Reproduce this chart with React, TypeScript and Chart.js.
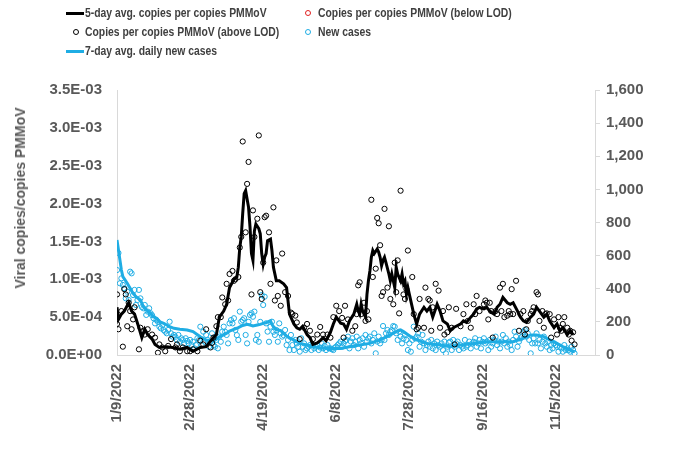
import React, { useEffect, useRef } from "react";
import { Chart, registerables } from "chart.js";

Chart.register(...registerables);

// Axis tick labels
const xTickLabels = ["1/9/2022", "2/28/2022", "4/19/2022", "6/8/2022", "7/28/2022", "9/16/2022", "11/5/2022"];
const leftTickLabels = ["0.0E+00", "5.0E-04", "1.0E-03", "1.5E-03", "2.0E-03", "2.5E-03", "3.0E-03", "3.5E-03"];
const rightTickLabels = ["0", "200", "400", "600", "800", "1,000", "1,200", "1,400", "1,600"];

// Days counted from 1/9/2022
// 5-day avg. copies per copies PMMoV
const avgDays = [0,1,3,5,8,10,12,15,17,19,21,24,26,29,34,38,43,48,52,57,61,66,68,70,73,75,77,80,82,83,84,85,86,87,88,90,91,92,93,94,95,97,98,99,100,101,102,103,105,106,107,109,111,114,116,118,121,123,125,127,130,132,134,137,139,141,143,146,148,150,153,155,157,159,162,164,165,166,167,168,170,171,172,173,174,175,176,178,179,180,181,182,183,184,186,187,188,189,190,191,192,194,195,196,197,198,199,200,202,203,205,207,210,212,214,216,219,221,223,226,228,230,232,235,237,239,242,244,246,248,251,253,255,258,260,262,264,267,269,271,274,276,278,280,283,285,287,289,292,294,296,299,301,303,305,308,310,312];
const avgCopies = [6.3e-4,4.7e-4,5.4e-4,5.8e-4,6.9e-4,5.8e-4,5.4e-4,3.6e-4,2.3e-4,3.4e-4,2.7e-4,2.1e-4,1.4e-4,1.0e-4,1.1e-4,1.0e-4,0.75e-4,1.0e-4,0.5e-4,1.0e-4,1.1e-4,2.3e-4,2.7e-4,5.0e-4,5.8e-4,6.7e-4,8.9e-4,10.0e-4,10.3e-4,11.6e-4,14.2e-4,15.6e-4,18.7e-4,21.3e-4,21.7e-4,19.5e-4,16.9e-4,13.4e-4,12.5e-4,16.4e-4,17.3e-4,16.7e-4,16.0e-4,13.4e-4,12.0e-4,12.9e-4,13.4e-4,15.1e-4,15.3e-4,13.8e-4,11.6e-4,9.8e-4,9.8e-4,9.4e-4,8.9e-4,5.4e-4,4.1e-4,3.6e-4,3.4e-4,3.8e-4,2.7e-4,2.3e-4,1.4e-4,1.6e-4,1.9e-4,2.3e-4,1.9e-4,3.0e-4,4.1e-4,5.0e-4,4.2e-4,4.1e-4,3.4e-4,4.5e-4,5.4e-4,6.7e-4,5.8e-4,5.4e-4,6.7e-4,5.8e-4,5.0e-4,8.0e-4,9.8e-4,11.1e-4,12.9e-4,13.8e-4,13.4e-4,14.0e-4,13.6e-4,12.9e-4,11.8e-4,12.5e-4,12.9e-4,12.2e-4,10.7e-4,9.8e-4,10.7e-4,9.8e-4,8.9e-4,11.6e-4,10.7e-4,9.8e-4,10.7e-4,9.4e-4,9.8e-4,8.0e-4,8.9e-4,8.0e-4,6.3e-4,5.4e-4,4.1e-4,5.4e-4,6.3e-4,5.8e-4,6.3e-4,5.0e-4,6.7e-4,5.8e-4,4.5e-4,4.1e-4,3.2e-4,3.6e-4,3.8e-4,4.1e-4,4.5e-4,4.3e-4,5.0e-4,5.4e-4,6.1e-4,6.3e-4,6.1e-4,6.3e-4,5.8e-4,5.4e-4,6.3e-4,6.7e-4,7.6e-4,6.9e-4,6.7e-4,6.9e-4,5.8e-4,5.0e-4,4.5e-4,4.3e-4,5.0e-4,5.4e-4,6.3e-4,5.8e-4,5.0e-4,5.4e-4,4.5e-4,3.6e-4,4.1e-4,3.2e-4,3.6e-4,2.7e-4,3.2e-4,2.7e-4];

// Copies per copies PMMoV (above LOD)
const sampleDays = [0,0,1,3,4,5,6,7,8,9,10,11,12,15,16,18,19,21,24,26,28,29,31,33,35,37,40,41,43,45,48,50,52,55,57,59,61,64,65,66,68,69,71,72,74,75,76,77,79,80,81,83,84,85,86,88,89,90,92,93,94,96,97,98,99,100,101,102,104,105,107,108,109,110,112,113,115,117,119,120,122,123,125,128,130,132,134,137,139,141,144,146,148,150,152,154,155,156,158,161,163,164,165,166,167,169,170,171,172,174,175,177,178,179,180,181,182,183,185,186,187,189,190,191,192,193,194,195,196,197,198,199,202,203,205,206,207,210,211,213,214,215,216,218,220,221,223,224,226,227,229,231,232,235,237,239,240,242,244,245,246,248,251,252,253,254,255,256,257,259,260,262,263,264,265,267,268,269,270,271,273,275,276,278,279,280,281,283,284,285,287,288,289,291,292,293,294,296,297,299,301,302,303,304,305,306,308,309,310,311,312,313];
const sampleCopies = [8.0e-4,4.1e-4,3.4e-4,5.8e-4,1.1e-4,8.7e-4,8.0e-4,3.8e-4,6.9e-4,5.8e-4,3.4e-4,4.7e-4,6.3e-4,0.75e-4,3.6e-4,3.2e-4,2.7e-4,3.4e-4,2.7e-4,2.3e-4,0.3e-4,1.4e-4,1.0e-4,0.5e-4,1.2e-4,2.1e-4,1.0e-4,1.4e-4,0.5e-4,1.0e-4,0.5e-4,0.5e-4,0.75e-4,0.5e-4,1.9e-4,1.4e-4,3.4e-4,1.0e-4,1.6e-4,2.3e-4,3.8e-4,5.0e-4,5.0e-4,7.6e-4,6.7e-4,9.4e-4,7.2e-4,10.7e-4,11.1e-4,9.8e-4,10.0e-4,10.3e-4,14.2e-4,15.6e-4,28.2e-4,16.2e-4,22.6e-4,25.5e-4,8.0e-4,19.1e-4,15.6e-4,18.0e-4,29.0e-4,8.3e-4,7.4e-4,12.2e-4,18.2e-4,18.4e-4,16.2e-4,9.4e-4,19.5e-4,7.2e-4,12.5e-4,7.8e-4,6.5e-4,13.4e-4,8.3e-4,7.8e-4,5.6e-4,5.4e-4,5.2e-4,4.3e-4,2.1e-4,3.6e-4,4.1e-4,3.2e-4,2.1e-4,2.7e-4,3.7e-4,2.7e-4,2.7e-4,2.3e-4,5.0e-4,6.5e-4,5.8e-4,4.9e-4,2.3e-4,6.5e-4,4.7e-4,3.2e-4,3.8e-4,5.4e-4,9.2e-4,9.6e-4,5.4e-4,6.9e-4,4.5e-4,5.8e-4,4.7e-4,20.5e-4,10.3e-4,11.4e-4,18.1e-4,17.4e-4,14.5e-4,7.8e-4,8.3e-4,19.3e-4,8.9e-4,17.0e-4,7.4e-4,6.7e-4,12.2e-4,8.3e-4,12.5e-4,5.5e-4,21.7e-4,9.8e-4,8.0e-4,7.4e-4,8.7e-4,13.8e-4,10.3e-4,5.4e-4,3.4e-4,3.6e-4,7.4e-4,3.6e-4,8.9e-4,7.4e-4,7.2e-4,3.2e-4,6.3e-4,9.4e-4,8.5e-4,3.6e-4,5.8e-4,2.7e-4,3.0e-4,6.3e-4,3.6e-4,1.4e-4,6.1e-4,3.8e-4,5.4e-4,6.7e-4,4.5e-4,3.6e-4,6.7e-4,5.4e-4,7.8e-4,5.8e-4,6.7e-4,7.2e-4,6.9e-4,4.7e-4,6.9e-4,5.8e-4,2.3e-4,5.8e-4,5.4e-4,8.9e-4,5.8e-4,9.4e-4,5.0e-4,5.2e-4,5.8e-4,5.4e-4,8.7e-4,5.4e-4,9.8e-4,3.2e-4,5.4e-4,5.8e-4,2.7e-4,3.4e-4,4.5e-4,5.4e-4,5.8e-4,6.3e-4,8.3e-4,8.0e-4,4.5e-4,5.8e-4,3.6e-4,5.4e-4,5.5e-4,5.4e-4,2.3e-4,4.7e-4,2.7e-4,5.0e-4,3.6e-4,3.2e-4,4.1e-4,5.0e-4,3.6e-4,2.7e-4,3.2e-4,1.9e-4,3.0e-4,1.4e-4];

// Copies per copies PMMoV (below LOD) - none visible
const belowLodDays: number[] = [];
const belowLodCopies: number[] = [];

// New cases, one value per day from 1/9/2022
const newCases = [
  513,616,433,463,423,403,342,382,332,503,
  493,362,393,302,332,393,342,290,282,302,
  242,262,282,252,240,222,191,211,201,171,
  161,181,150,141,131,151,201,131,111,121,
  110,91,121,80,101,91,70,101,85,70,
  91,60,80,40,60,101,90,171,60,141,
  80,121,91,50,80,131,60,50,91,40,
  111,80,141,171,140,121,70,191,211,191,
  222,151,120,91,262,201,211,222,121,70,
  200,242,252,231,262,91,121,80,200,362,
  302,352,191,141,80,171,201,140,121,151,
  80,191,131,111,120,151,60,91,30,121,
  60,30,91,70,50,20,101,50,70,30,
  40,50,60,30,60,40,50,60,30,45,
  70,40,55,30,60,40,40,35,30,45,
  50,60,70,81,50,70,85,91,111,40,
  81,101,60,80,111,40,91,70,101,50,
  121,81,100,111,70,91,131,10,81,111,
  70,90,175,91,131,151,121,141,150,175,
  171,131,91,141,111,70,100,121,91,30,
  70,20,91,171,100,111,131,50,81,121,
  70,30,60,81,50,91,40,70,30,81,
  60,50,70,30,81,10,50,75,81,30,
  91,50,70,81,30,60,50,40,91,50,
  60,81,40,70,80,101,50,70,91,40,
  80,101,70,81,30,91,50,70,90,111,
  60,81,40,81,121,70,101,50,81,60,
  30,91,141,111,50,81,100,111,141,151,
  111,131,91,10,70,101,70,131,70,91,
  40,80,111,70,50,81,30,60,40,70,
  60,50,20,50,40,20,60,30,40,30,
  20,50,30,10,
];

// 7-day avg. daily new cases
const avgCaseDays = [0,1,2,3,4,7,9,11,13,16,18,20,23,25,27,29,32,34,36,39,43,48,52,57,61,66,68,70,73,75,77,80,83,86,89,91,93,96,98,100,102,105,106,107,109,112,114,116,118,121,123,125,130,134,139,144,148,153,159,166,173,180,187,191,194,196,201,205,212,221,228,235,244,253,262,271,278,283,287,292,296,301,305,310,313];
const avgCases = [695,634,574,513,473,433,403,372,352,332,292,272,252,231,222,201,191,181,171,161,155,151,141,110,90,85,95,110,121,131,145,155,165,178,185,181,175,181,185,191,195,207,185,171,155,147,131,115,101,91,80,70,60,50,44,40,40,40,50,60,70,91,121,141,151,141,111,91,70,60,50,60,70,80,80,80,101,121,121,111,91,70,50,30,20];

const BLUE = "#1FADE4";
const AXIS_GRAY = "#D9D9D9";
const TICK_GRAY = "#595959";
const FONT = "'Liberation Sans', Arial, Helvetica, sans-serif";

const pairs = (xs: number[], ys: number[]) => xs.map((x, i) => ({ x, y: ys[i] }));

type LegendItem = { label: string; kind: "line" | "dot"; color: string; col: number; row: number };
const legendItems: LegendItem[] = [
  { label: "5-day avg. copies per copies PMMoV", kind: "line", color: "#000000", col: 0, row: 0 },
  { label: "Copies per copies PMMoV (above LOD)", kind: "dot", color: "#000000", col: 0, row: 1 },
  { label: "7-day avg. daily new cases", kind: "line", color: BLUE, col: 0, row: 2 },
  { label: "Copies per copies PMMoV (below LOD)", kind: "dot", color: "#E02020", col: 1, row: 0 },
  { label: "New cases", kind: "dot", color: BLUE, col: 1, row: 1 },
];

export default function App() {
  const ref = useRef<HTMLCanvasElement | null>(null);

  useEffect(() => {
    if (!ref.current) return;
    const tickFont = { family: FONT, size: 15, weight: "bold" as const };
    const chart = new Chart(ref.current, {
      type: "line",
      data: {
        datasets: [
          {
            type: "line",
            label: "5-day avg. copies per copies PMMoV",
            data: pairs(avgDays, avgCopies),
            borderColor: "#000000",
            borderWidth: 3,
            pointRadius: 0,
            tension: 0,
            yAxisID: "y",
            order: 0,
          },
          {
            type: "scatter",
            label: "Copies per copies PMMoV (above LOD)",
            data: pairs(sampleDays, sampleCopies),
            borderColor: "#000000",
            backgroundColor: "rgba(0,0,0,0)",
            pointRadius: 2.6,
            pointBorderWidth: 1,
            yAxisID: "y",
            order: 1,
          },
          {
            type: "scatter",
            label: "Copies per copies PMMoV (below LOD)",
            data: pairs(belowLodDays, belowLodCopies),
            borderColor: "#E02020",
            backgroundColor: "rgba(0,0,0,0)",
            pointRadius: 2.6,
            pointBorderWidth: 1,
            yAxisID: "y",
            order: 1,
          },
          {
            type: "line",
            label: "7-day avg. daily new cases",
            data: pairs(avgCaseDays, avgCases),
            borderColor: BLUE,
            borderWidth: 3,
            pointRadius: 0,
            tension: 0,
            yAxisID: "y2",
            order: 2,
          },
          {
            type: "scatter",
            label: "New cases",
            data: newCases.map((v, i) => ({ x: i, y: v })),
            borderColor: BLUE,
            backgroundColor: "rgba(0,0,0,0)",
            pointRadius: 2.6,
            pointBorderWidth: 1,
            yAxisID: "y2",
            order: 3,
          },
        ],
      },
      options: {
        responsive: false,
        animation: false,
        layout: { padding: { top: 90, left: 0, right: 0, bottom: 0 }, autoPadding: false },
        plugins: { legend: { display: false }, tooltip: { enabled: false }, title: { display: false } },
        scales: {
          x: {
            type: "linear",
            position: "bottom",
            min: 0,
            max: 327,
            afterFit: (s: any) => { s.height = 107; },
            grid: { display: false, drawTicks: false },
            border: { display: true, color: AXIS_GRAY, width: 1 },
            ticks: {
              stepSize: 50,
              includeBounds: false,
              autoSkip: false,
              minRotation: 90,
              maxRotation: 90,
              padding: 9,
              color: TICK_GRAY,
              font: tickFont,
              callback: (v: any) => (Number(v) % 50 === 0 ? xTickLabels[Number(v) / 50] : null),
            },
          },
          y: {
            position: "left",
            min: 0,
            max: 0.0035,
            afterFit: (s: any) => { s.width = 117; },
            grid: { display: false, drawTicks: false },
            border: { display: true, color: AXIS_GRAY, width: 1 },
            ticks: {
              stepSize: 0.0005,
              padding: 15,
              color: TICK_GRAY,
              font: tickFont,
              callback: (v: any) => leftTickLabels[Math.round(Number(v) / 0.0005)],
            },
          },
          y2: {
            position: "right",
            min: 0,
            max: 1600,
            afterFit: (s: any) => { s.width = 85; },
            grid: { display: true, drawOnChartArea: false, drawTicks: true, tickLength: 5, color: AXIS_GRAY },
            border: { display: true, color: AXIS_GRAY, width: 1 },
            ticks: {
              stepSize: 200,
              padding: 6,
              color: TICK_GRAY,
              font: tickFont,
              callback: (v: any) => rightTickLabels[Math.round(Number(v) / 200)],
            },
          },
        },
      },
    });
    return () => chart.destroy();
  }, []);

  const colX = [85, 318];
  const rowY = [13, 32, 51];

  return (
    <div style={{ position: "absolute", left: 0, top: 0, width: 680, height: 462, background: "#ffffff", overflow: "hidden" }}>
      <canvas ref={ref} width={680} height={462} style={{ position: "absolute", left: 0, top: 0, width: 680, height: 462 }} />
      {legendItems.map((it, i) => {
        const x = colX[it.col];
        const y = rowY[it.row];
        return (
          <React.Fragment key={i}>
            {it.kind === "line" ? (
              <div style={{ position: "absolute", left: x - 19, top: y - 1.5, width: 18, height: 3, background: it.color }} />
            ) : (
              <div
                style={{
                  position: "absolute",
                  left: x - (it.col === 0 ? 12 : 13),
                  top: y - 3,
                  width: 4,
                  height: 4,
                  borderRadius: "50%",
                  border: `1px solid ${it.color}`,
                }}
              />
            )}
            <div
              style={{
                position: "absolute",
                left: x,
                top: y - 8,
                height: 16,
                lineHeight: "16px",
                fontFamily: FONT,
                fontWeight: "bold",
                fontSize: 12.5,
                color: "#404040",
                whiteSpace: "nowrap",
                transform: "scaleX(0.83)",
                transformOrigin: "left center",
              }}
            >
              {it.label}
            </div>
          </React.Fragment>
        );
      })}
      <div
        style={{
          position: "absolute",
          left: 20,
          top: 198,
          transform: "translate(-50%, -50%) rotate(-90deg)",
          fontFamily: FONT,
          fontWeight: "bold",
          fontSize: 14,
          color: TICK_GRAY,
          whiteSpace: "nowrap",
        }}
      >
        Viral copies/copies PMMoV
      </div>
    </div>
  );
}
